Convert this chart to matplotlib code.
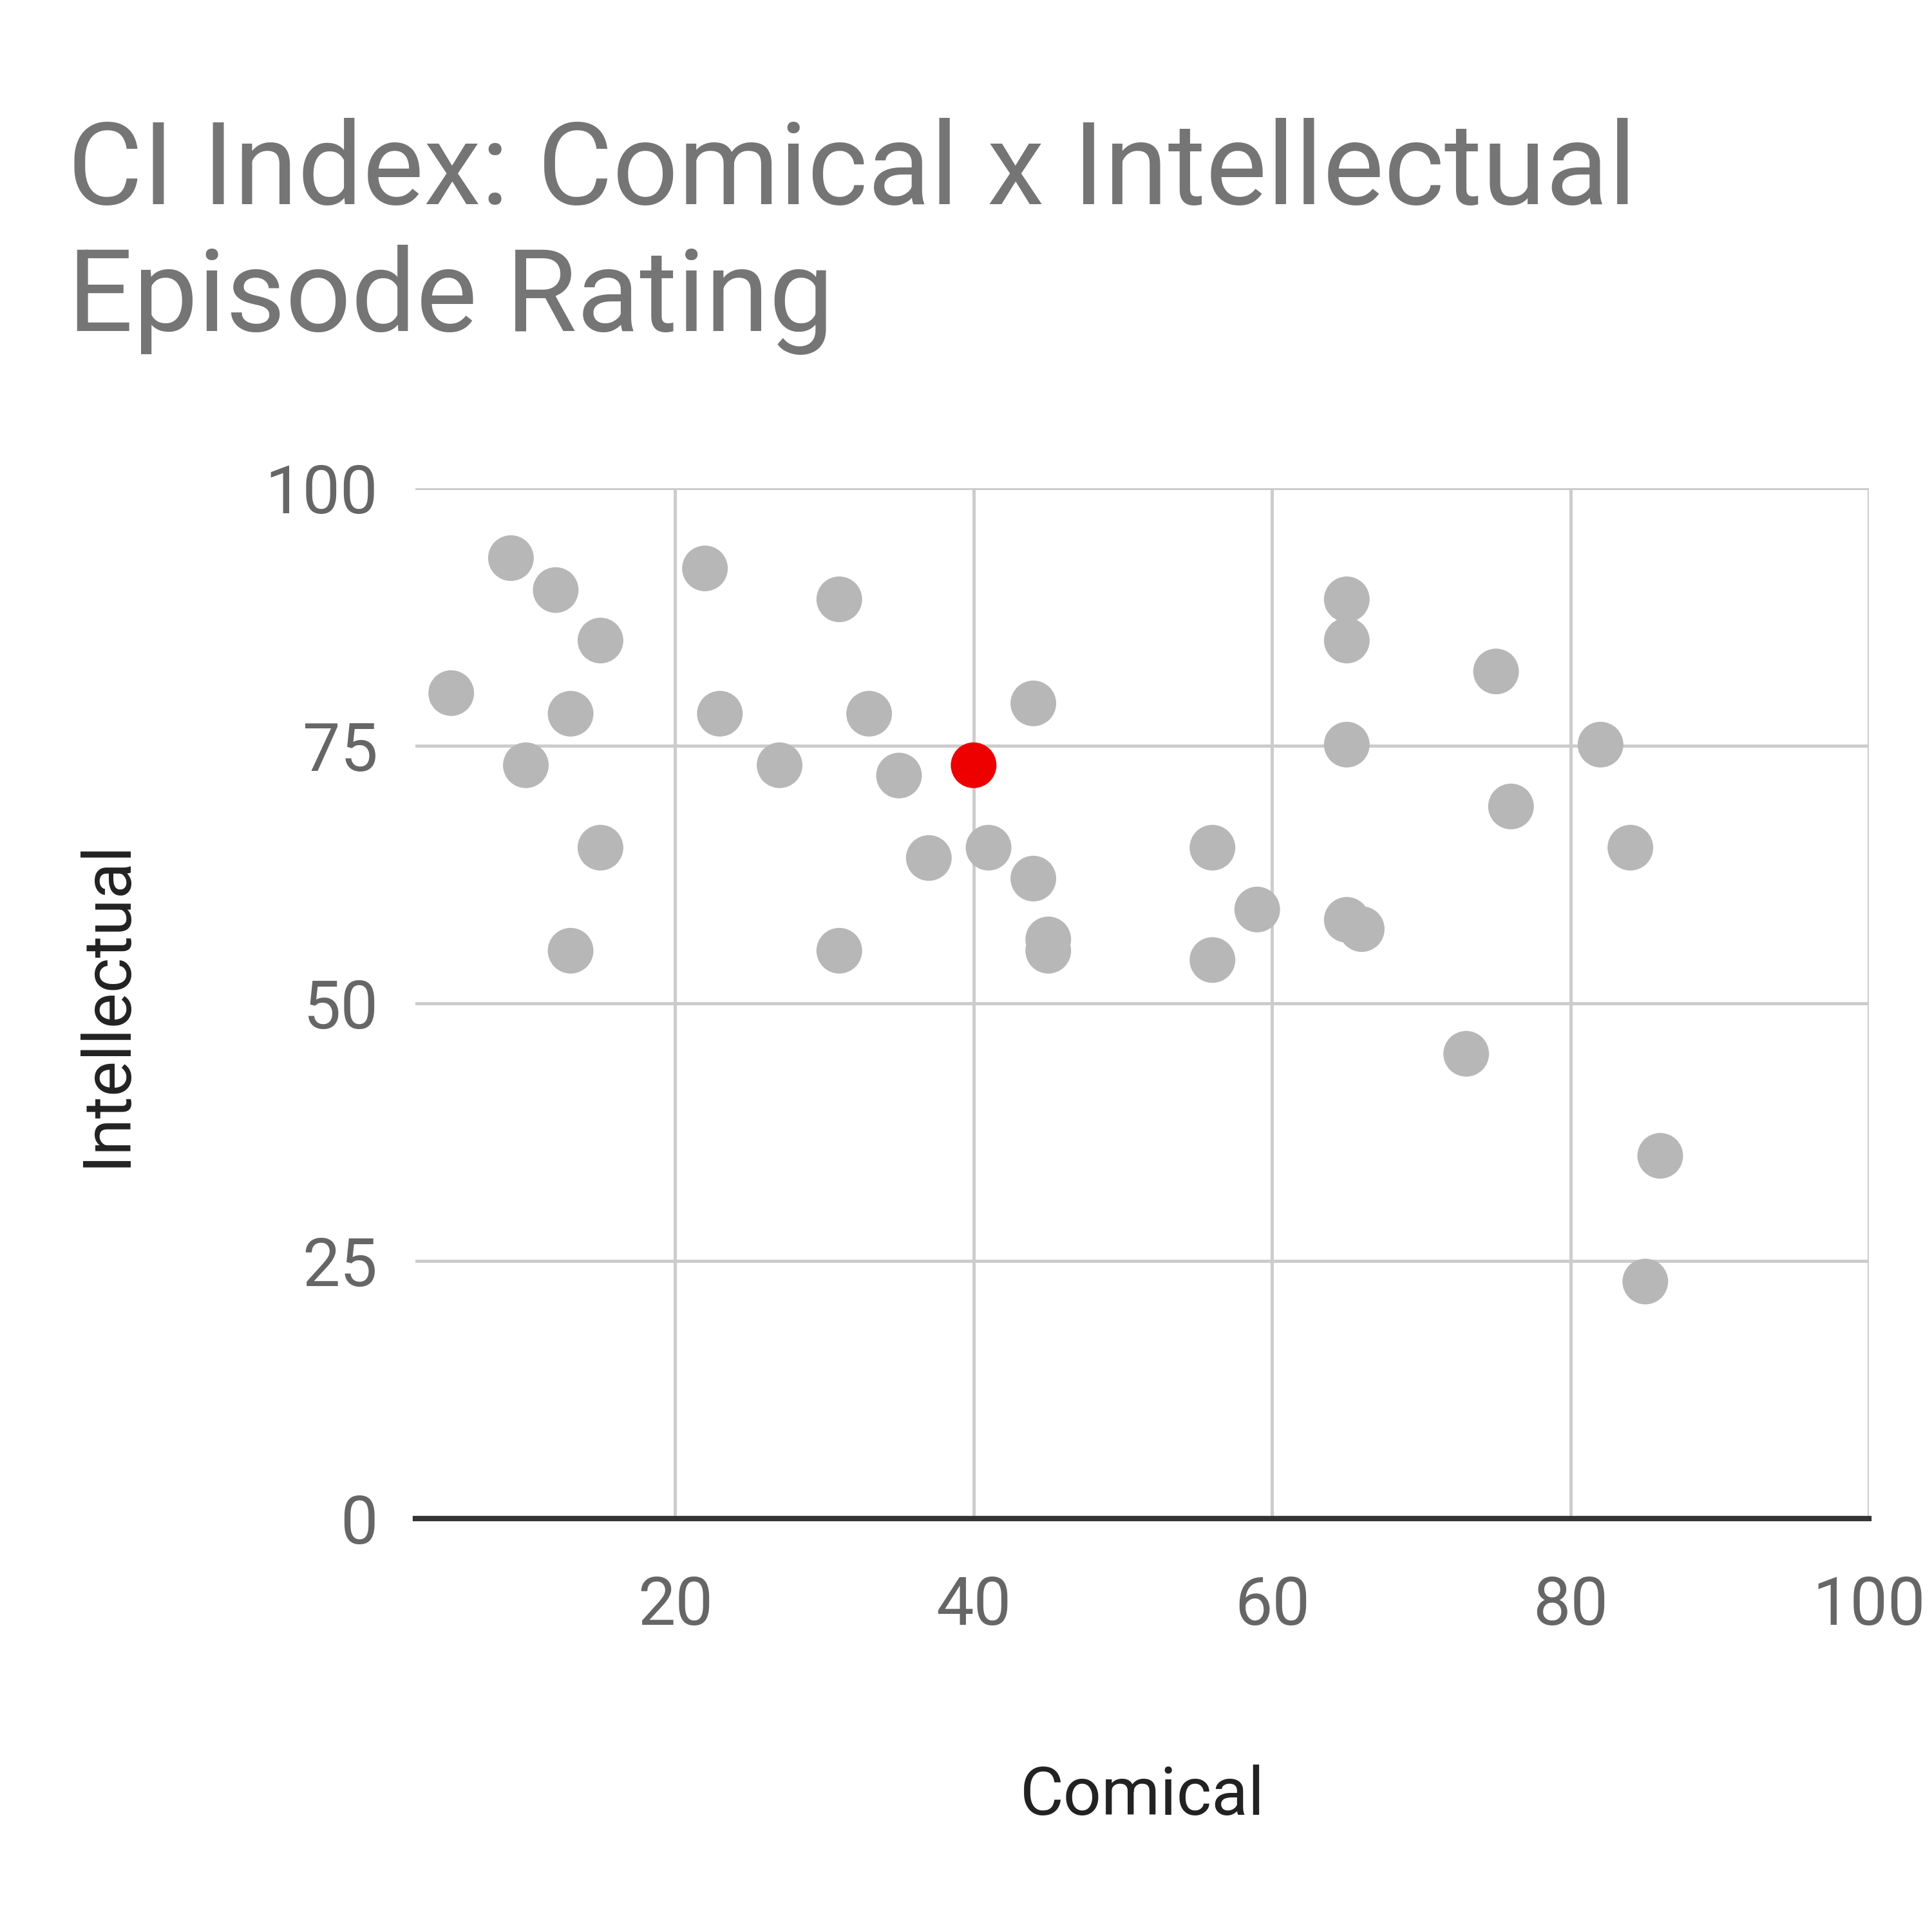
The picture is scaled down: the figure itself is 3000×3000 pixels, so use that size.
import matplotlib.pyplot as plt

plt.rcParams['font.family'] = ['Roboto', 'DejaVu Sans']

comical = [9, 12, 15, 5, 13, 10, 15, 13, 22, 23, 27, 31, 33, 35, 37, 31,
           41, 44, 44, 45, 45, 56, 56, 59, 65, 65, 65, 65, 66, 75, 76, 73,
           82, 84, 86, 85]
intellectual = [93.2, 90.1, 85.2, 80.1, 78.1, 73.1, 65.1, 55.1, 92.2, 78.1,
                73.1, 89.2, 78.1, 72.1, 64.1, 55.1, 65.1, 79.1, 62.1, 56.2,
                55.1, 65.1, 54.2, 59.1, 89.2, 85.2, 75.1, 58.1, 57.2, 82.2,
                69.1, 45.1, 75.1, 65.1, 35.2, 23.0]
highlight_x = [40]
highlight_y = [73.1]

fig = plt.figure(figsize=(10, 10), dpi=300)
ax = fig.add_axes([0.215, 0.214, 0.7525, 0.5334])

ax.scatter(comical, intellectual, s=290, color='#b7b7b7', edgecolors='none', zorder=3)
ax.scatter(highlight_x, highlight_y, s=290, color='#ee0000', edgecolors='none', zorder=4)

ax.set_xlim(2.6, 100)
ax.set_ylim(0, 100)
ax.set_xticks([20, 40, 60, 80, 100])
ax.set_yticks([0, 25, 50, 75, 100])
ax.grid(True, color='#cccccc', linewidth=1.2)
ax.set_axisbelow(True)
for side in ['top', 'right', 'left']:
    ax.spines[side].set_visible(False)
ax.spines['bottom'].set_color('#333333')
ax.spines['bottom'].set_linewidth(2)
ax.tick_params(length=0, labelsize=25, labelcolor='#666666', pad=14)
ax.tick_params(axis='x', pad=21)

ax.set_xlabel('Comical', fontsize=25, color='#222222', labelpad=47)
ax.set_ylabel('Intellectual', fontsize=25, color='#222222', labelpad=47)

fig.text(0.035, 0.939, 'CI Index: Comical x Intellectual\nEpisode Rating',
         fontsize=43, color='#757575', va='top', ha='left', linespacing=1.2)

fig.savefig('out.png', dpi=300)
